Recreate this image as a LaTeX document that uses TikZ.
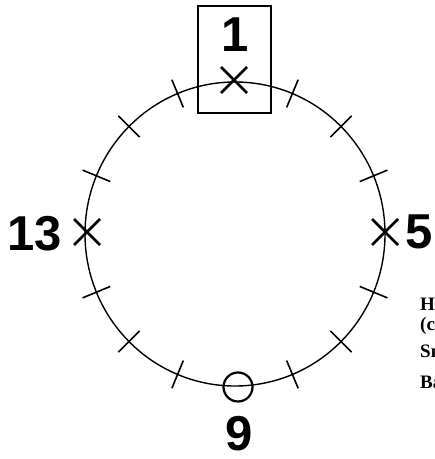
\documentclass[tikz,border=0pt]{standalone}
\usepackage{fontspec}
\setmainfont{Liberation Serif}
\newfontfamily\bigsans{Liberation Sans}
\begin{document}
\begin{tikzpicture}[x=1bp,y=-1bp,
  ring/.style={line width=1.4bp},
  tickmark/.style={line width=1.6bp},
  xmark/.style={line width=2.8bp},
  posnum/.style={font=\bigsans\bfseries\fontsize{49bp}{50bp}\selectfont, inner sep=0pt},
  sidetext/.style={font=\bfseries\fontsize{19bp}{20bp}\selectfont, inner sep=0pt, anchor=base west}]
\useasboundingbox (0,0) rectangle (435,459);
\clip (0,0) rectangle (435,459);
% circle
\draw[ring] (235,234) ellipse [x radius=150, y radius=152];
% ticks
\foreach \a in {22.5,45,67.5,112.5,135,157.5,202.5,225,247.5,292.5,315,337.5}{
  \draw[tickmark] ({235+135*sin(\a)},{234-137*cos(\a)}) -- ({235+165*sin(\a)},{234-167*cos(\a)});
}
% crosses
\coordinate (p1) at (234,80);
\coordinate (p5) at (385,232);
\coordinate (p13) at (87,232);
\foreach \p in {p1,p5,p13}{
  \draw[xmark] ([shift={(-13,-13)}]\p) -- ([shift={(13,13)}]\p);
  \draw[xmark] ([shift={(-13,13)}]\p) -- ([shift={(13,-13)}]\p);
}
% small circle at 9
\draw[line width=2.2bp] (238,387) circle [radius=14.5];
% box around 1
\draw[line width=1.8bp] (198,6) rectangle (271,113);
% labels
\node[posnum, anchor=base] (l1) at (235,52) {1};
\node[posnum, anchor=base] (l9) at (239,450) {9};
\node[posnum, anchor=base east] (l13) at (62,250) {13};
\node[posnum, anchor=base west] (l5) at (405,248) {5};
% cut-off side text
\node[sidetext] (t1) at (420,310) {H};
\node[sidetext] (t2) at (420,330) {(c};
\node[sidetext] (t3) at (420,357) {Sm};
\node[sidetext] (t4) at (420,388) {Ba};
\end{tikzpicture}
\end{document}
